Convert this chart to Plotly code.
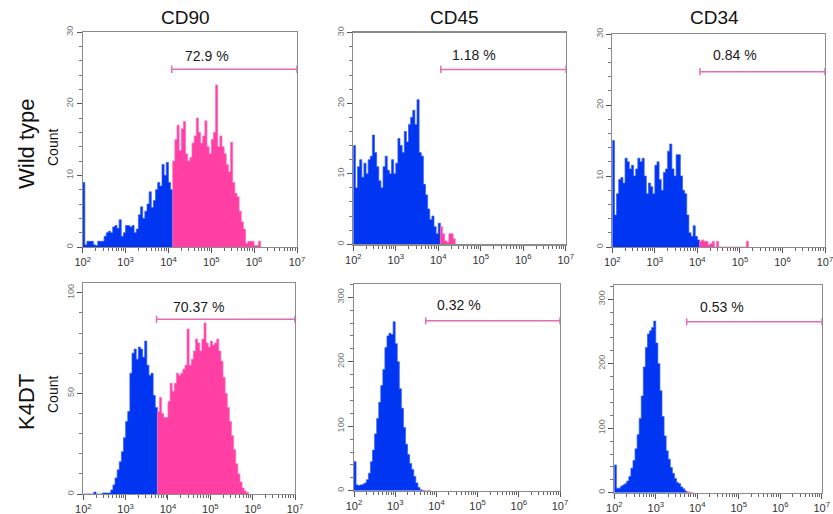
import plotly.graph_objects as go

# ---------------- data ----------------
BIN_W = 0.05      # bin width in log10 units
LOG_MIN = 2.0     # first bin starts at 10^2

row_labels = ["Wild type", "K4DT"]
col_labels = ["CD90", "CD45", "CD34"]

wt_cd90 = [9, 0.3, 0.8, 0.8, 0.8, 0.3, 0.2, 0.8, 0.8, 0.8,
           1.5, 2, 2.2, 2, 2.8, 3, 2.6, 3.8, 1.5, 2,
           3, 3, 2.8, 3, 2, 2.5, 4.5, 5.6, 4, 5,
           6, 7.7, 5.5, 6.5, 8, 9, 8.5, 11.5, 10, 11.8,
           9, 8, 12, 15, 17, 13.5, 16.5, 17.5, 13, 12,
           12.5, 14.5, 15.5, 18, 16, 14.5, 15.5, 17.6, 14, 13,
           15, 16, 22.6, 14, 15.5, 14, 13, 11.5, 10.5, 14.6,
           9, 7.5, 7, 5, 3.5, 2.5, 0.5, 0.8, 0.8, 0.8,
           0.2, 0.2, 0.8]
wt_cd45 = [14, 8, 11, 12, 9.5, 11.5, 10, 12, 12.5, 15.5,
           13, 11, 9, 8, 11, 12.5, 10.5, 10, 12, 10,
           11.5, 15, 14, 13, 16, 14.5, 17, 18, 19, 17,
           20.5, 13, 12.5, 8.5, 7, 5, 3.5, 4, 2.5, 1.5,
           3, 2.5, 1.5, 0.5, 0.3, 1.5, 1.5, 0.8]
wt_cd34 = [15, 4.5, 7.5, 9.5, 9.8, 9, 12.5, 12, 11, 11.5,
           10, 11, 12.5, 12, 12.5, 10, 7.5, 9, 8.5, 7.5,
           11.5, 12, 9.5, 8, 10.5, 11, 13.5, 14.5, 11, 10,
           13, 13, 10, 8, 7.5, 4.5, 2, 1.5, 3, 1.5,
           1, 0.8, 1.0, 0.8, 0.8, 0.3, 0.5, 0.8, 0, 0.8,
           0, 0, 0, 0, 0, 0, 0, 0, 0, 0,
           0, 0, 0, 0.8]
k4_cd90 = [0, 0, 0, 0, 0, 1, 0, 0, 0, 0.5,
           0.5, 0.5, 0.5, 2, 4.5, 8, 12, 16, 21, 28,
           36, 41, 60, 70, 72, 67, 73, 72, 68, 76,
           64, 59, 60, 49, 43, 41, 48, 40, 38, 38,
           46, 55, 51, 55, 60, 59, 60, 62, 64, 82,
           64, 67, 71, 77, 75, 71, 77, 85, 75, 73,
           76, 74, 75, 77, 71, 66, 58, 50, 43, 36,
           29, 22, 15, 10, 6, 3, 1.5, 0.7]
k4_cd45 = [45, 9, 8, 9, 10, 12, 17, 27, 45, 63,
           88, 112, 137, 163, 188, 222, 240, 244, 242, 262,
           228, 200, 158, 128, 98, 72, 56, 42, 33, 22,
           12, 5, 1.5, 0.5, 0, 0.5, 1]
k4_cd34 = [43, 7, 7, 10, 12, 14, 18, 25, 38, 50,
           68, 90, 115, 150, 195, 225, 246, 251, 256, 266,
           232, 200, 158, 118, 88, 65, 52, 39, 30, 22,
           16, 14, 9, 6, 2.5, 1.5, 1, 0.5]

hist_counts = [wt_cd90, wt_cd45, wt_cd34, k4_cd90, k4_cd45, k4_cd34]
gate_first_bin = [42, 41, 41, 35, 35, 35]          # first bin inside the gate
gate_lo_log = [4.077, 4.06, 4.06, 3.73, 3.74, 3.745]
gate_hi_log = [7.0, 7.0, 7.0, 7.0, 7.0, 7.0]
gate_y = [24.8, 24.8, 24.7, 86.8, 263.6, 265]
pct_text = ["72.9 %", "1.18 %", "0.84 %", "70.37 %", "0.32 %", "0.53 %"]
pct_x_log = [4.89, 4.85, 4.885, 4.72, 4.56, 4.6]
pct_y = [26.7, 26.9, 27.0, 92.9, 288, 288]

y_max = [30, 30, 30, 105, 320, 322]
y_major = [10, 10, 10, 50, 100, 100]
y_minor = [2, 2, 2, 10, 20, 20]

x_tick_exp = [2, 3, 4, 5, 6, 7]

# ---------------- layout geometry (pixels) ----------------
W, H = 833, 514
boxes = [  # left, right, top, bottom in pixels
    (82.7, 297.0, 32.0, 247.0),
    (353.3, 565.7, 32.7, 244.3),
    (612.3, 825.0, 34.0, 247.0),
    (83.3, 295.0, 282.7, 494.0),
    (354.0, 560.0, 284.3, 490.7),
    (614.3, 821.7, 285.0, 492.7),
]

BLUE = "#0036F2"
BLUE_EDGE = "#2F58FF"
PINK = "#FF3FA4"
PINK_EDGE = "#FF6CBC"
GATE = "#E36DB3"
FRAME = "#8C8C8C"
FONT = "Liberation Sans, Arial, sans-serif"

fig = go.Figure()
layout = dict(
    template="none",
    width=W, height=H, autosize=False,
    margin=dict(l=0, r=0, t=0, b=0, pad=0),
    paper_bgcolor="white", plot_bgcolor="white",
    showlegend=False, font=dict(family=FONT),
)
annotations = []

minor_x = [k * 10 ** d for d in range(2, 7) for k in range(2, 10)]

for p in range(6):
    counts = hist_counts[p]
    n = len(counts)
    edges = [LOG_MIN + BIN_W * i for i in range(n + 1)]
    g = gate_first_bin[p]
    ax = "" if p == 0 else str(p + 1)
    xa, ya = "x" + ax, "y" + ax

    # outside-gate part (blue) and inside-gate part (pink) as filled steps
    for lo, hi, fc, lc in [(0, g, BLUE, BLUE_EDGE), (g, n, PINK, PINK_EDGE)]:
        if hi <= lo:
            continue
        xs = [10 ** edges[lo]] + [10 ** edges[i] for i in range(lo, hi)] + [10 ** edges[hi], 10 ** edges[hi]]
        ys = [0] + [counts[i] for i in range(lo, hi)] + [counts[hi - 1], 0]
        fig.add_trace(go.Scatter(
            x=xs, y=ys, mode="lines", line=dict(shape="hv", color=lc, width=0.7),
            fill="tozeroy", fillcolor=fc, xaxis=xa, yaxis=ya, hoverinfo="skip"))

    # gate marker
    cap = y_max[p] * 0.017
    x0, x1, gy = 10 ** gate_lo_log[p], 10 ** gate_hi_log[p], gate_y[p]
    fig.add_trace(go.Scatter(
        x=[x0, x1, None, x0, x0, None, x1, x1],
        y=[gy, gy, None, gy - cap, gy + cap, None, gy - cap, gy + cap],
        mode="lines", line=dict(color=GATE, width=1.5),
        xaxis=xa, yaxis=ya, hoverinfo="skip", cliponaxis=False))
    annotations.append(dict(
        x=pct_x_log[p], y=pct_y[p], xref=xa, yref=ya, text=pct_text[p],
        showarrow=False, font=dict(size=14, color="#1a1a1a", family=FONT),
        xanchor="center", yanchor="middle"))

    l, r, t, b = boxes[p]
    layout["xaxis" + ax] = dict(
        type="log", range=[2, 7], domain=[l / W, r / W], anchor=ya,
        automargin=False, ticklabeloverflow="allow",
        showline=True, linecolor=FRAME, linewidth=1.2, mirror=True,
        showgrid=False, zeroline=False,
        tickmode="array", tickvals=[10 ** e for e in x_tick_exp],
        ticktext=["10<sup>%d</sup>" % e for e in x_tick_exp],
        ticks="outside", ticklen=5, tickcolor="#555", tickwidth=1,
        tickfont=dict(size=11, color="#333", family=FONT),
        minor=dict(tickmode="array", tickvals=minor_x, ticks="outside",
                   ticklen=3, tickcolor="#666", tickwidth=1, showgrid=False),
    )
    ymaj = list(range(0, int(y_max[p]) + 1, y_major[p]))
    ymin_ = list(range(0, int(y_max[p]) + 1, y_minor[p]))
    layout["yaxis" + ax] = dict(
        range=[0, y_max[p]], domain=[1 - b / H, 1 - t / H], anchor=xa,
        automargin=False,
        showline=True, linecolor=FRAME, linewidth=1.2, mirror=True,
        showgrid=False, zeroline=False,
        tickmode="array", tickvals=ymaj, ticktext=[str(v) for v in ymaj],
        ticks="outside", ticklen=5, tickcolor="#555", tickwidth=1,
        tickangle=-90,
        tickfont=dict(size=9, color="#777", family=FONT),
        minor=dict(tickmode="array", tickvals=ymin_, ticks="outside",
                   ticklen=3, tickcolor="#777", tickwidth=1, showgrid=False),
    )

# column titles
for cx, txt in zip([185, 454, 714], col_labels):
    annotations.append(dict(x=cx / W, y=1 - 18 / H, xref="paper", yref="paper",
                            text=txt, showarrow=False,
                            font=dict(size=19, color="#111", family=FONT),
                            xanchor="center", yanchor="middle"))
# row titles
for cy, txt in zip([144, 402], row_labels):
    annotations.append(dict(x=26 / W, y=1 - cy / H, xref="paper", yref="paper",
                            text=txt, showarrow=False, textangle=-90,
                            font=dict(size=22, color="#111", family=FONT),
                            xanchor="center", yanchor="middle"))
for cy in [148, 395]:
    annotations.append(dict(x=53 / W, y=1 - cy / H, xref="paper", yref="paper",
                            text="Count", showarrow=False, textangle=-90,
                            font=dict(size=14, color="#111", family=FONT),
                            xanchor="center", yanchor="middle"))

layout["annotations"] = annotations
fig.update_layout(**layout)
fig.write_html(
    "out.html",
    config=dict(displayModeBar=False, staticPlot=True),
    post_script="document.body.style.margin='0';document.body.style.padding='0';"
                "document.body.style.overflow='hidden';",
)
